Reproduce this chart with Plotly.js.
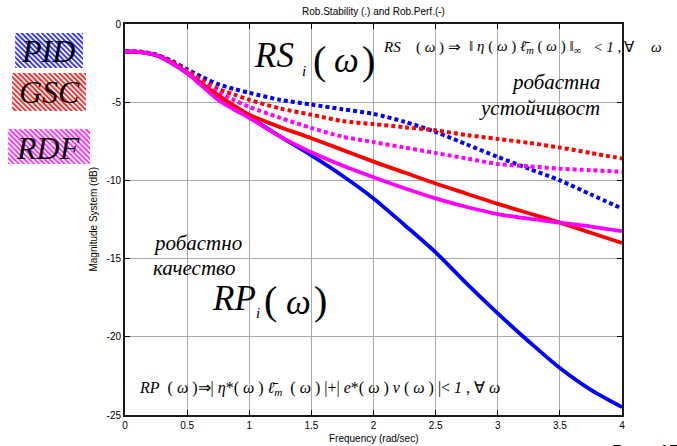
<!DOCTYPE html>
<html>
<head>
<meta charset="utf-8">
<script src="https://cdn.plot.ly/plotly-3.0.1.min.js"></script>
<style>html,body{margin:0;padding:0;background:#fff;}#chart{width:677px;height:446px;}</style>
</head>
<body>
<div id="chart"></div>
<script>
// ---- data ----
const freq = [0, 0.125, 0.25, 0.375, 0.5, 0.625, 0.75, 0.875, 1.0, 1.25, 1.5, 1.75, 2.0, 2.25, 2.5, 2.75, 3.0, 3.25, 3.5, 3.75, 4.0];
const pidRP = [-1.75, -1.8, -2.0, -2.5, -3.15, -3.95, -4.75, -5.35, -5.95, -7.2, -8.4, -9.7, -11.15, -12.85, -14.6, -16.6, -18.5, -20.3, -22.0, -23.4, -24.5];
const gscRP = [-1.75, -1.8, -1.98, -2.45, -3.1, -3.85, -4.55, -5.2, -5.8, -6.6, -7.3, -8.05, -8.8, -9.5, -10.2, -10.85, -11.5, -12.1, -12.7, -13.35, -14.0];
const rdfRP = [-1.75, -1.8, -2.0, -2.5, -3.15, -4.0, -4.85, -5.45, -6.0, -7.2, -8.2, -9.05, -9.8, -10.5, -11.15, -11.7, -12.15, -12.45, -12.7, -12.95, -13.25];
const pidRS = [-1.75, -1.78, -1.95, -2.35, -2.9, -3.4, -3.85, -4.15, -4.4, -4.85, -5.15, -5.45, -5.75, -6.25, -6.9, -7.7, -8.5, -9.25, -10.0, -10.9, -11.8];
const gscRS = [-1.75, -1.78, -1.97, -2.4, -3.0, -3.6, -4.15, -4.5, -4.85, -5.4, -5.8, -6.2, -6.4, -6.6, -6.8, -7.1, -7.35, -7.6, -7.9, -8.25, -8.6];
const rdfRS = [-1.75, -1.78, -1.98, -2.45, -3.05, -3.75, -4.35, -4.85, -5.3, -6.0, -6.65, -7.2, -7.55, -7.9, -8.25, -8.6, -8.95, -9.1, -9.25, -9.35, -9.45];
const xTickVals = [0, 0.5, 1, 1.5, 2, 2.5, 3, 3.5, 4];
const xTickText = ['0', '0.5', '1', '1.5', '2', '2.5', '3', '3.5', '4'];
const yTickVals = [0, -5, -10, -15, -20, -25];
const yTickText = ['0', '-5', '-10', '-15', '-20', '-25'];
const legendNames = ['PID', 'GSC', 'RDF'];

// ---- styling / layout ----
const BLUE = '#0000ff', RED = '#ff0000', MAG = '#ff00ff';
const DOT = '4px,3px';
function line(y, color, dash) {
  return {x: freq, y: y, type: 'scatter', mode: 'lines',
    line: {color: color, width: dash ? 4 : 3.8, dash: dash || 'solid', shape: 'spline', smoothing: 0.8},
    hoverinfo: 'skip', showlegend: false};
}
const traces = [
  line(pidRS, BLUE, DOT), line(gscRS, RED, DOT), line(rdfRS, MAG, DOT),
  line(pidRP, BLUE), line(gscRP, RED), line(rdfRP, MAG)
];

const L = 125, R = 622.5, T = 24, B = 415;
const sx = p => (p - L) / (R - L);
const sy = p => (B - p) / (B - T);
const SERIF = 'Liberation Serif, Times New Roman, serif';
const SANS = 'Liberation Sans, Arial, sans-serif';

function hatch(color, w, h) {
  const svg = '<svg xmlns="http://www.w3.org/2000/svg" width="' + w + '" height="' + h + '" viewBox="0 0 ' + w + ' ' + h + '">' +
    '<defs><pattern id="p" width="3.6" height="3.6" patternUnits="userSpaceOnUse" patternTransform="rotate(-45)">' +
    '<rect width="1.9" height="3.6" fill="' + color + '"/></pattern></defs>' +
    '<rect width="' + w + '" height="' + h + '" fill="#fff"/><rect width="' + w + '" height="' + h + '" fill="url(#p)"/></svg>';
  return 'data:image/svg+xml;charset=utf-8,' + encodeURIComponent(svg);
}
function img(color, x0, y0, x1, y1) {
  return {source: hatch(color, x1 - x0, y1 - y0), xref: 'paper', yref: 'paper',
    x: sx(x0), y: sy(y0), sizex: (x1 - x0) / (R - L), sizey: (y1 - y0) / (B - T),
    xanchor: 'left', yanchor: 'top', sizing: 'stretch', layer: 'below'};
}
function ann(text, x, y, size, opts) {
  return Object.assign({text: text, x: sx(x), y: sy(y), xref: 'paper', yref: 'paper',
    xanchor: 'left', yanchor: 'middle', showarrow: false,
    font: {family: SERIF, size: size, color: '#000'}}, opts || {});
}

const annotations = [
  // legend texts
  ann('<i>' + legendNames[0] + '</i>', 48, 51, 32, {xanchor: 'center'}),
  ann('<i>' + legendNames[1] + '</i>', 49, 92, 32, {xanchor: 'center'}),
  ann('<i>' + legendNames[2] + '</i>', 48, 148, 32, {xanchor: 'center'}),
  // RS_i(w)
  ann('<i>RS</i>', 252, 55, 35),
  ann('<i>i</i>', 300, 71, 15),
  ann('(', 311, 60, 40),
  ann('<i>ω</i>', 332, 61, 35),
  ann(')', 360, 60, 40),
  // RS formula, pieces placed to follow the reference spacing
  ann('<i>RS</i>', 381, 47, 15),
  ann('( <i>ω</i> )', 414, 47, 15),
  ann('⇒', 446, 47, 15),
  ann('‖ <i>η</i> ( <i>ω</i> ) <i>ℓ̄</i><sub><i>m</i></sub> ( <i>ω</i> ) ‖<sub>∞</sub>', 467, 47, 15),
  ann('< <i>1</i> ,', 592, 47, 15),
  ann('∀', 623, 47, 15),
  ann('<i>ω</i>', 650, 47, 15),
  // Cyrillic labels
  ann('<i>робастна</i>', 602, 82, 21, {xanchor: 'right'}),
  ann('<i>устойчивост</i>', 602, 108, 21, {xanchor: 'right'}),
  ann('<i>робастно</i>', 151, 243, 21),
  ann('<i>качество</i>', 151, 268, 21),
  // RP_i(w)
  ann('<i>RP</i>', 210, 298, 35),
  ann('<i>i</i>', 254, 313, 15),
  ann('(', 262, 300, 40),
  ann('<i>ω</i>', 284, 302, 35),
  ann(')', 312, 300, 40),
  // RP formula
  ann('<i>RP</i>  ( <i>ω</i> )⇒| <i>η</i>*( <i>ω</i> ) <i>ℓ̄</i><sub><i>m</i></sub>  ( <i>ω</i> ) |+| <i>e</i>*( <i>ω</i> ) <i>v</i> ( <i>ω</i> ) |< <i>1</i> , ∀ <i>ω</i>', 137, 388, 16),
  // axis titles
  ann('Frequency (rad/sec)', (L + R) / 2, 438, 10, {xanchor: 'center', font: {family: SANS, size: 10, color: '#000'}}),
  ann('Magnitude System (dB)', 93, (T + B) / 2, 10, {xanchor: 'center', textangle: -90, font: {family: SANS, size: 10, color: '#000'}}),
  // page mark (cut at bottom)
  ann('<b>L</b>', 611, 451, 22),
  ann('<b>17</b>', 657, 451, 22)
];

const axisCommon = {
  showgrid: true, gridcolor: '#a9a9a9', gridwidth: 1,
  zeroline: false, showline: true, linecolor: '#1a1a1a', linewidth: 2,
  mirror: 'ticks', ticks: 'inside', ticklen: 5, tickwidth: 1, tickcolor: '#000',
  tickfont: {family: SANS, size: 10, color: '#000'}, fixedrange: true
};

const layout = {
  width: 677, height: 446,
  margin: {l: L, r: 677 - R, t: T, b: 446 - B, pad: 0},
  paper_bgcolor: '#fff', plot_bgcolor: '#fff',
  showlegend: false,
  title: {text: 'Rob.Stability (.) and Rob.Perf.(-)', font: {family: SANS, size: 10, color: '#000'},
    x: 0.5, xref: 'paper', xanchor: 'center', y: 1 - 11 / 446, yref: 'container', yanchor: 'middle'},
  xaxis: Object.assign({}, axisCommon, {range: [0, 4], tickmode: 'array', tickvals: xTickVals, ticktext: xTickText, automargin: false}),
  yaxis: Object.assign({}, axisCommon, {range: [-25, 0], tickmode: 'array', tickvals: yTickVals, ticktext: yTickText, automargin: false}),
  images: [img('#3333ff', 15, 33, 83, 68), img('#ff2a2a', 12, 73, 86, 111), img('#ff33ff', 8, 129, 90, 164)],
  annotations: annotations
};

Plotly.newPlot('chart', traces, layout, {staticPlot: true, displayModeBar: false});
</script>
</body>
</html>
